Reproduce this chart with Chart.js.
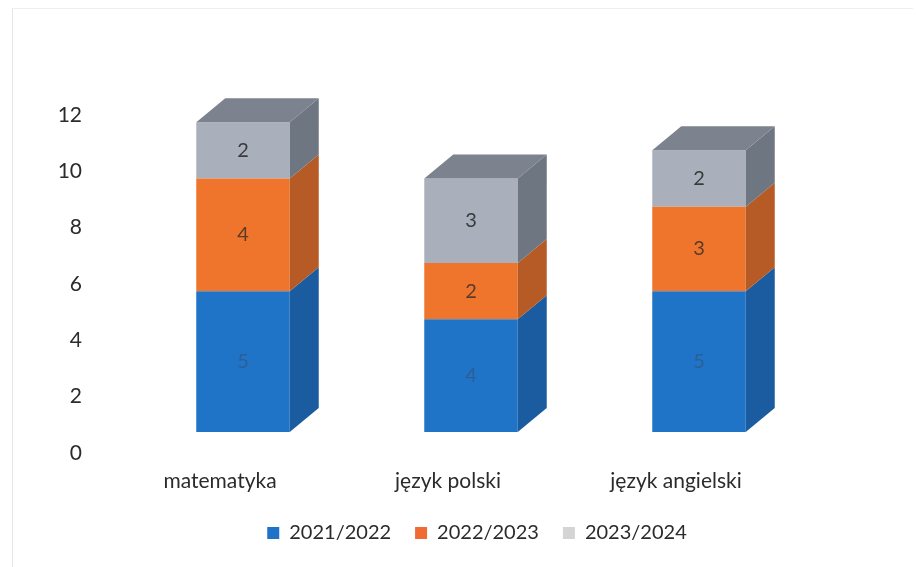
<!DOCTYPE html>
<html>
<head>
<meta charset="utf-8">
<script src="https://cdn.jsdelivr.net/npm/chart.js@4"></script>
<style>
  html, body { margin: 0; padding: 0; background: #fff; }
  #wrap { position: relative; width: 918px; height: 567px; }
  #frame { position: absolute; left: 12px; top: 8px; width: 900px; height: 560px; border-left: 1px solid #e6e6e6; border-top: 1px solid #efefef; }
  canvas { position: absolute; left: 0; top: 0; }
</style>
</head>
<body>
<div id="wrap">
  <div id="frame"></div>
  <canvas id="chart" width="918" height="567"></canvas>
</div>
<script>
const categories = ['matematyka', 'język polski', 'język angielski'];
const seriesNames = ['2021/2022', '2022/2023', '2023/2024'];
const values2122 = [5, 4, 5];
const values2223 = [4, 2, 3];
const values2324 = [2, 3, 2];

// front, side, top, label colour per series
const palette = [
    { front: '#1f74c7', side: '#1a5c9f', top: '#2a6fb5', text: '#2c5f96', legend: '#1e73c8' },
    { front: '#f0752c', side: '#b65a26', top: '#c9652c', text: '#5a3b2a', legend: '#f06a34' },
    { front: '#a9b0bc', side: '#6e7681', top: '#7c838e', text: '#3a3a3a', legend: '#d4d4d4' }
];

const FONT = 'Lato, sans-serif';
const DEPTH_X = 29, DEPTH_Y = 24;
const SHIFT_X = 23, SHIFT_Y = -21;
const LEGEND_SHIFT = 54;

const bars3d = {
    id: 'bars3d',
    afterLayout(chart) {
        // legend sits a bit right of the plot centre in the original
        chart.legend.left += LEGEND_SHIFT;
        chart.legend.right += LEGEND_SHIFT;
    },
    beforeDatasetsDraw(chart) {
        chart.ctx.save();
        chart.ctx.translate(SHIFT_X, SHIFT_Y);
    },
    afterDatasetsDraw(chart) {
        const ctx = chart.ctx;
        const n = chart.data.datasets.length;
        chart.data.datasets.forEach((ds, di) => {
            const meta = chart.getDatasetMeta(di);
            meta.data.forEach((bar, idx) => {
                const p = bar.getProps(['x', 'y', 'base', 'width'], true);
                const l = p.x - p.width / 2, r = p.x + p.width / 2;
                const t = Math.min(p.y, p.base), b = Math.max(p.y, p.base);
                // side face
                ctx.fillStyle = palette[di].side;
                ctx.beginPath();
                ctx.moveTo(r, b);
                ctx.lineTo(r + DEPTH_X, b - DEPTH_Y);
                ctx.lineTo(r + DEPTH_X, t - DEPTH_Y);
                ctx.lineTo(r, t);
                ctx.closePath();
                ctx.fill();
                if (di === n - 1) {
                    ctx.fillStyle = palette[di].top;
                    ctx.beginPath();
                    ctx.moveTo(l, t);
                    ctx.lineTo(l + DEPTH_X, t - DEPTH_Y);
                    ctx.lineTo(r + DEPTH_X, t - DEPTH_Y);
                    ctx.lineTo(r, t);
                    ctx.closePath();
                    ctx.fill();
                }
                // value label
                ctx.fillStyle = palette[di].text;
                ctx.font = '20px ' + FONT;
                ctx.textAlign = 'center';
                ctx.textBaseline = 'middle';
                ctx.fillText(String(ds.data[idx]), p.x, (t + b) / 2);
            });
        });
        ctx.restore();
    }
};

const allValues = [values2122, values2223, values2324];

new Chart(document.getElementById('chart'), {
    type: 'bar',
    data: {
        labels: categories,
        datasets: seriesNames.map((name, i) => ({
            label: name,
            data: allValues[i],
            backgroundColor: palette[i].front,
            borderWidth: 0,
            categoryPercentage: 1,
            barPercentage: 0.41
        }))
    },
    options: {
        responsive: false,
        animation: false,
        layout: { padding: { left: 56, right: 128, top: 115, bottom: 14 } },
        plugins: {
            tooltip: { enabled: false },
            legend: {
                position: 'bottom',
                labels: {
                    color: '#2b2b2b',
                    font: { family: FONT, size: 20 },
                    boxWidth: 12,
                    boxHeight: 12,
                    padding: 24,
                    generateLabels: (chart) => chart.data.datasets.map((ds, i) => ({
                        text: ds.label,
                        fillStyle: palette[i].legend,
                        strokeStyle: palette[i].legend,
                        lineWidth: 0,
                        fontColor: '#2b2b2b',
                        datasetIndex: i
                    }))
                }
            }
        },
        scales: {
            x: {
                stacked: true,
                grid: { display: false },
                border: { display: false },
                afterFit: (s) => { s.height = 46; },
                ticks: { color: '#2b2b2b', padding: 8, font: { family: FONT, size: 21 } }
            },
            y: {
                stacked: true,
                min: 0,
                max: 12,
                grid: { display: false },
                border: { display: false },
                afterFit: (s) => { s.width = 50; },
                ticks: { stepSize: 2, color: '#2b2b2b', padding: 16, font: { family: FONT, size: 21 } }
            }
        }
    },
    plugins: [bars3d]
});
</script>
</body>
</html>
